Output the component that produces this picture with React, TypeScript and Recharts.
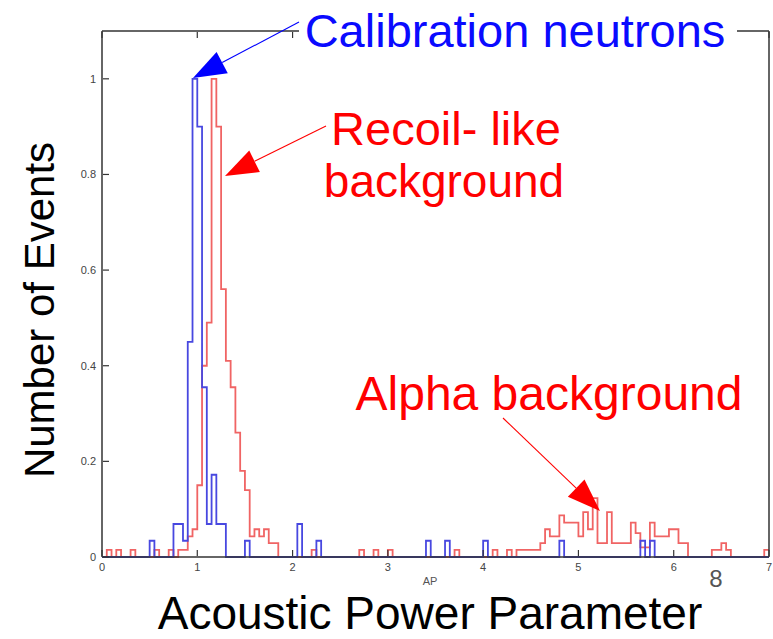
import React from 'react';
import { LineChart, Line, XAxis, YAxis } from 'recharts';

const X_TICKS = [0, 1, 2, 3, 4, 5, 6, 7];
const Y_TICKS = [0, 0.2, 0.4, 0.6, 0.8, 1];
const BIN_WIDTH = 0.05;
const X_MAX = 7;

// [bin start, normalised number of events]
const neutronBins: [number, number][] = [
  [0.5, 0.034], [0.75, 0.069], [0.8, 0.069], [0.85, 0.034], [0.9, 0.45],
  [0.95, 1.0], [1.0, 0.9], [1.05, 0.355], [1.1, 0.069], [1.15, 0.172],
  [1.2, 0.069], [1.25, 0.069], [1.5, 0.034], [2.05, 0.069], [2.25, 0.034],
  [3.4, 0.034], [3.6, 0.034], [4.0, 0.034], [4.8, 0.034], [5.65, 0.034],
  [5.75, 0.034],
];

const backgroundBins: [number, number][] = [
  [0.05, 0.015], [0.15, 0.015], [0.3, 0.015], [0.55, 0.015], [0.7, 0.015],
  [0.8, 0.015], [0.85, 0.015], [0.9, 0.043], [0.95, 0.058], [1.0, 0.15],
  [1.05, 0.4], [1.1, 0.49], [1.15, 1.0], [1.2, 0.9], [1.25, 0.56],
  [1.3, 0.41], [1.35, 0.355], [1.4, 0.26], [1.45, 0.18], [1.5, 0.14],
  [1.55, 0.043], [1.6, 0.058], [1.65, 0.043], [1.7, 0.058], [1.75, 0.029],
  [1.8, 0.029], [2.2, 0.015], [2.7, 0.015], [2.85, 0.015], [3.0, 0.015],
  [3.7, 0.015], [4.1, 0.015], [4.25, 0.015], [4.35, 0.015], [4.4, 0.015],
  [4.45, 0.015], [4.5, 0.015], [4.55, 0.015], [4.6, 0.029], [4.65, 0.058],
  [4.7, 0.043], [4.75, 0.043], [4.8, 0.087], [4.85, 0.072], [4.9, 0.072],
  [4.95, 0.072], [5.0, 0.043], [5.05, 0.094], [5.1, 0.058], [5.15, 0.123],
  [5.2, 0.029], [5.25, 0.029], [5.3, 0.094], [5.35, 0.029], [5.4, 0.029],
  [5.45, 0.029], [5.5, 0.029], [5.55, 0.072], [5.6, 0.05], [5.65, 0.02],
  [5.7, 0.02], [5.75, 0.072], [5.8, 0.043], [5.85, 0.043], [5.9, 0.043],
  [5.95, 0.058], [6.0, 0.058], [6.05, 0.029], [6.1, 0.029], [6.4, 0.015],
  [6.45, 0.015], [6.5, 0.029], [6.55, 0.015], [6.95, 0.015],
];

const BLUE_LINE = '#4848e0';
const RED_LINE = '#f06464';
const AXIS = '#333';
const FONT = '"Liberation Sans", Arial, sans-serif';

function valueAt(bins: [number, number][], x: number) {
  const hit = bins.find((b) => Math.abs(b[0] - x) < 1e-6);
  return hit ? hit[1] : 0;
}

// histogram outline: one point per bin edge, drawn as stepAfter
function buildRows() {
  const n = Math.round(X_MAX / BIN_WIDTH);
  const rows = [];
  for (let i = 0; i <= n; i++) {
    const x = +(i * BIN_WIDTH).toFixed(2);
    const src = +(Math.min(i, n - 1) * BIN_WIDTH).toFixed(2);
    rows.push({ x, neutrons: valueAt(neutronBins, src), background: valueAt(backgroundBins, src) });
  }
  return rows;
}

const data = buildRows();

const BottomTick = ({ x, y, payload }: any) => (
  <g>
    <line x1={x} x2={x} y1={y - 1} y2={y - 7} stroke={AXIS} strokeWidth={1.2} />
    <text x={x} y={y + 14} textAnchor="middle" fontSize={11} fill="#444" fontFamily={FONT}>
      {payload.value}
    </text>
  </g>
);

const TopTick = ({ x, y }: any) => (
  <line x1={x} x2={x} y1={y + 1} y2={y + 7} stroke={AXIS} strokeWidth={1.2} />
);

const LeftTick = ({ x, y, payload }: any) => (
  <g>
    <line x1={x + 1} x2={x + 7} y1={y} y2={y} stroke={AXIS} strokeWidth={1.2} />
    <text x={x - 6} y={y + 4} textAnchor="end" fontSize={11} fill="#444" fontFamily={FONT}>
      {payload.value}
    </text>
  </g>
);

const RightTick = ({ x, y }: any) => (
  <line x1={x - 1} x2={x - 7} y1={y} y2={y} stroke={AXIS} strokeWidth={1.2} />
);

function Arrow({ from, to, color, head = 33, half = 12 }: any) {
  const dx = from[0] - to[0];
  const dy = from[1] - to[1];
  const len = Math.hypot(dx, dy);
  const ux = dx / len;
  const uy = dy / len;
  const bx = to[0] + ux * head;
  const by = to[1] + uy * head;
  const px = -uy * half;
  const py = ux * half;
  return (
    <g>
      <line x1={from[0]} y1={from[1]} x2={bx} y2={by} stroke={color} strokeWidth={1.1} />
      <polygon
        points={`${to[0]},${to[1]} ${bx + px},${by + py} ${bx - px},${by - py}`}
        fill={color}
      />
    </g>
  );
}

export default function App() {
  return (
    <div style={{ position: 'absolute', left: 0, top: 0, width: 773, height: 639, background: '#fff' }}>
      <LineChart width={773} height={639} data={data} margin={{ top: 30, right: 3, bottom: 81, left: 101 }}>
        <XAxis
          dataKey="x"
          type="number"
          domain={[0, X_MAX]}
          ticks={X_TICKS}
          height={1}
          tickSize={0}
          tickMargin={0}
          tickLine={false}
          tick={<BottomTick />}
          axisLine={{ stroke: AXIS, strokeWidth: 1.5 }}
        />
        <XAxis
          xAxisId="top"
          orientation="top"
          dataKey="x"
          type="number"
          domain={[0, X_MAX]}
          ticks={X_TICKS}
          height={1}
          tickSize={0}
          tickMargin={0}
          tickLine={false}
          tick={<TopTick />}
          axisLine={{ stroke: AXIS, strokeWidth: 1.5 }}
        />
        <YAxis
          type="number"
          domain={[0, 1.1]}
          ticks={Y_TICKS}
          width={1}
          tickSize={0}
          tickMargin={0}
          tickLine={false}
          tick={<LeftTick />}
          axisLine={{ stroke: AXIS, strokeWidth: 1.5 }}
        />
        <YAxis
          yAxisId="right"
          orientation="right"
          type="number"
          domain={[0, 1.1]}
          ticks={Y_TICKS}
          width={1}
          tickSize={0}
          tickMargin={0}
          tickLine={false}
          tick={<RightTick />}
          axisLine={{ stroke: AXIS, strokeWidth: 1.5 }}
        />
        <Line
          type="stepAfter"
          dataKey="background"
          stroke={RED_LINE}
          strokeWidth={1.8}
          dot={false}
          isAnimationActive={false}
        />
        <Line
          type="stepAfter"
          dataKey="neutrons"
          stroke={BLUE_LINE}
          strokeWidth={1.8}
          dot={false}
          isAnimationActive={false}
        />
      </LineChart>
      <svg
        width={773}
        height={639}
        style={{ position: 'absolute', left: 0, top: 0, pointerEvents: 'none' }}
        fontFamily={FONT}
      >
        <rect x={299} y={0} width={438} height={58} fill="#fff" />
        <text x={515} y={47} textAnchor="middle" fontSize={47} fill="#0a0aff">Calibration neutrons</text>
        <Arrow from={[299, 22]} to={[193, 78]} color="#0000ff" />
        <text x={446} y={145} textAnchor="middle" fontSize={47} fill="#ff0000">Recoil- like</text>
        <text x={444} y={197} textAnchor="middle" fontSize={46} fill="#ff0000">background</text>
        <Arrow from={[326, 126]} to={[225, 176]} color="#ff0000" />
        <text x={549} y={410} textAnchor="middle" fontSize={48} fill="#ff0000">Alpha background</text>
        <Arrow from={[503, 418]} to={[600, 511]} color="#ff0000" />
        <text x={430} y={629} textAnchor="middle" fontSize={46} fill="#000">Acoustic Power Parameter</text>
        <text x={430} y={585} textAnchor="middle" fontSize={11} fill="#555">AP</text>
        <text x={716} y={587} textAnchor="middle" fontSize={24} fill="#555">8</text>
        <text transform="translate(54,310) rotate(-90)" textAnchor="middle" fontSize={42} fill="#000">
          Number of Events
        </text>
      </svg>
    </div>
  );
}
